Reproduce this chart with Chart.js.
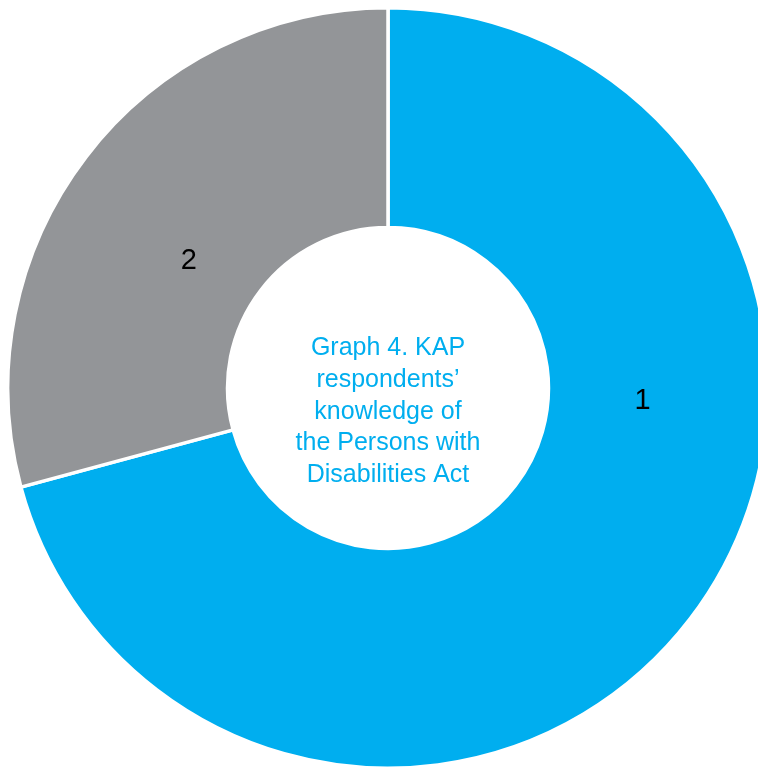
<!DOCTYPE html>
<html>
<head>
<meta charset="utf-8">
<script src="https://cdn.jsdelivr.net/npm/chart.js@4/dist/chart.umd.min.js"></script>
<style>
  html, body { margin: 0; padding: 0; overflow: hidden; background: #ffffff; width: 758px; height: 767px; }
  #wrap { position: absolute; left: 0; top: 0; width: 776px; height: 776px; }
</style>
</head>
<body>
<div id="wrap"><canvas id="c" width="776" height="776"></canvas></div>
<script>
const categories = ["1", "2"];
const shares = [70.8, 29.2];
const sliceColors = ["#00AEEF", "#939598"];
const centerTitleLines = ["Graph 4. KAP", "respondents\u2019", "knowledge of", "the Persons with", "Disabilities Act"];

const labelPlugin = {
  id: 'sliceLabels',
  afterDatasetsDraw(chart, args, opts) {
    const ctx = chart.ctx;
    const meta = chart.getDatasetMeta(0);
    ctx.save();
    ctx.fillStyle = opts.color;
    ctx.font = opts.font;
    ctx.textAlign = 'center';
    ctx.textBaseline = 'middle';
    meta.data.forEach((arc, i) => {
      const p = opts.placement[i];
      const a = p.angle * Math.PI / 180;
      const r = arc.innerRadius + (arc.outerRadius - arc.innerRadius) * p.frac;
      ctx.fillText(chart.data.labels[i], arc.x + Math.cos(a) * r, arc.y + Math.sin(a) * r);
    });
    ctx.restore();
  }
};

const centerPlugin = {
  id: 'centerTitle',
  afterDatasetsDraw(chart, args, opts) {
    const ctx = chart.ctx;
    const arc = chart.getDatasetMeta(0).data[0];
    ctx.save();
    ctx.fillStyle = opts.color;
    ctx.font = opts.font;
    ctx.textAlign = 'center';
    ctx.textBaseline = 'alphabetic';
    opts.lines.forEach((line, i) => {
      ctx.fillText(line, arc.x, arc.y + opts.firstBaseline + i * opts.lineHeight);
    });
    ctx.restore();
  }
};

new Chart(document.getElementById('c'), {
  type: 'doughnut',
  data: {
    labels: categories,
    datasets: [{
      data: shares,
      backgroundColor: sliceColors,
      borderColor: '#ffffff',
      borderWidth: 3.5
    }]
  },
  options: {
    responsive: false,
    animation: false,
    cutout: '42.2%',
    layout: { padding: 6 },
    plugins: {
      legend: { display: false },
      tooltip: { enabled: false },
      sliceLabels: {
        color: '#000000',
        font: '29px "Liberation Sans", Arial, sans-serif',
        placement: [{ angle: 2.9, frac: 0.43 }, { angle: -147.4, frac: 0.345 }]
      },
      centerTitle: {
        color: '#00AEEF',
        font: '25px "Liberation Sans", Arial, sans-serif',
        lines: centerTitleLines,
        firstBaseline: -33,
        lineHeight: 31.75
      }
    }
  },
  plugins: [labelPlugin, centerPlugin]
});
</script>
</body>
</html>
